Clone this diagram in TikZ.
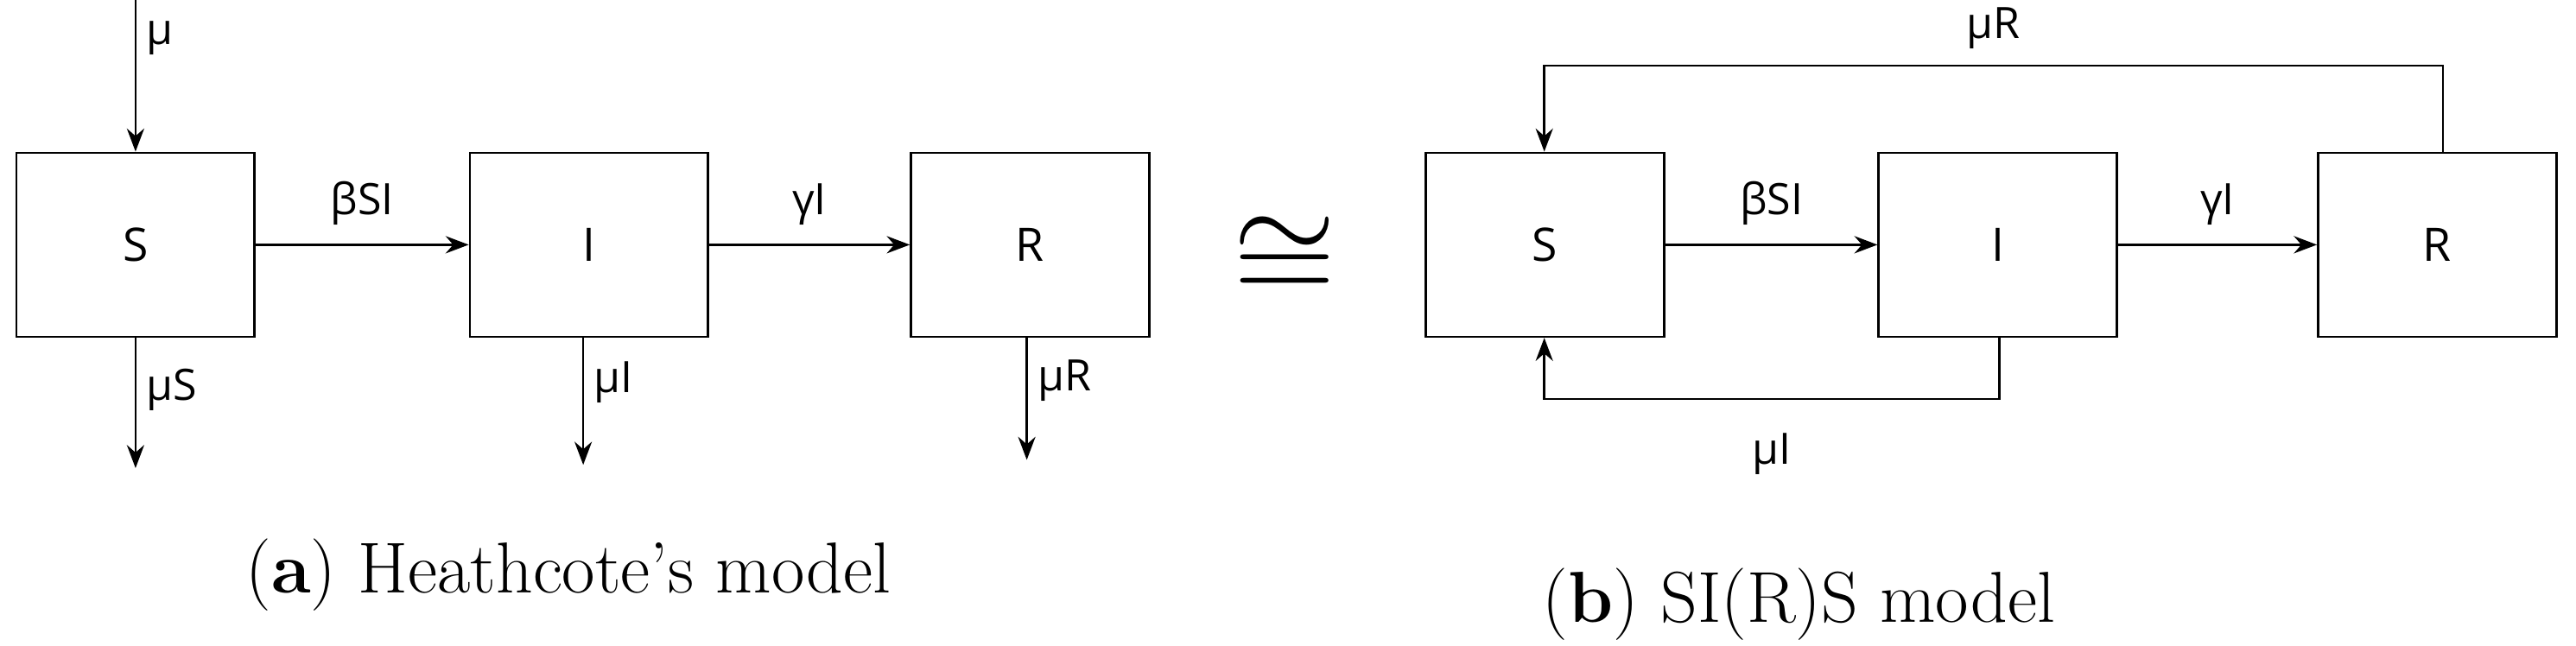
\documentclass[tikz,border=0pt]{standalone}
\usepackage{fontspec}
\newfontfamily\labelfont{Open Sans}
\usetikzlibrary{arrows.meta,positioning}
\begin{document}
\begin{tikzpicture}[x=0.02cm,y=-0.02cm,
      mybox/.style={
         draw=black,
         line width=0.8pt,
         minimum width=2.9cm,
         minimum height=2.24cm,
         font=\labelfont\fontsize{16}{18}\selectfont},
      mylabel/.style={font=\labelfont\fontsize{15}{18}\selectfont},
      mycap/.style={font=\fontsize{25}{30}\selectfont},
      myarrow/.style={-{Stealth[length=8pt,width=6pt]},line width=0.8pt}
      ]
      \useasboundingbox (0,0) rectangle (1568,393);
      % (a) Heathcote's model
      \node[mybox] (s1) at (82.5,149) {S};
      \node[mybox] (i1) at (358.5,149) {I};
      \node[mybox] (r1) at (627,149) {R};
      \coordinate (in1) at (82.5,0);
      \coordinate (ds1) at (82.5,285);
      \coordinate (di1) at (355,283);
      \coordinate (dr1) at (625,280);

      \draw[myarrow] (in1) -- node[mylabel,right,pos=0.25] {μ} (s1);
      \draw[myarrow] (s1) -- node[mylabel,above=3pt] {βSI} (i1);
      \draw[myarrow] (i1) -- node[mylabel,above=3pt] {γI} (r1);
      \draw[myarrow] (s1.south) -- node[mylabel,right,pos=0.4] {μS} (ds1);
      \draw[myarrow] (s1.south -| di1) -- node[mylabel,right,pos=0.35] {μI} (di1);
      \draw[myarrow] (r1.south -| dr1) -- node[mylabel,right,pos=0.35] {μR} (dr1);

      \node[inner sep=0pt] (iso) at (782,157) {\scalebox{4.6}[4.2]{$\cong$}};

      % (b) SI(R)S model
      \node[mybox] (s2) at (940.5,149) {S};
      \node[mybox] (i2) at (1216,149) {I};
      \node[mybox] (r2) at (1483.5,149) {R};
      \coordinate (top) at (940,40);
      \coordinate (bot) at (1217,243);

      \draw[myarrow] (s2) -- node[mylabel,above=3pt] {βSI} (i2);
      \draw[myarrow] (i2) -- node[mylabel,above=3pt] {γI} (r2);
      \draw[myarrow] (r2.north -| 1487,0) |- node[mylabel,above=2pt,pos=0.75] {μR} (top) -- (s2.north -| top);
      \draw[myarrow] (i2.south -| bot) |- node[mylabel,below=8pt,pos=0.75] {μI} (bot -| top) -- (s2.south -| top);

      \node[mycap] (cap1) at (346,350) {(\textbf{a}) Heathcote’s model};
      \node[mycap] (cap2) at (1095,368) {(\textbf{b}) SI(R)S model};
\end{tikzpicture}
\end{document}
